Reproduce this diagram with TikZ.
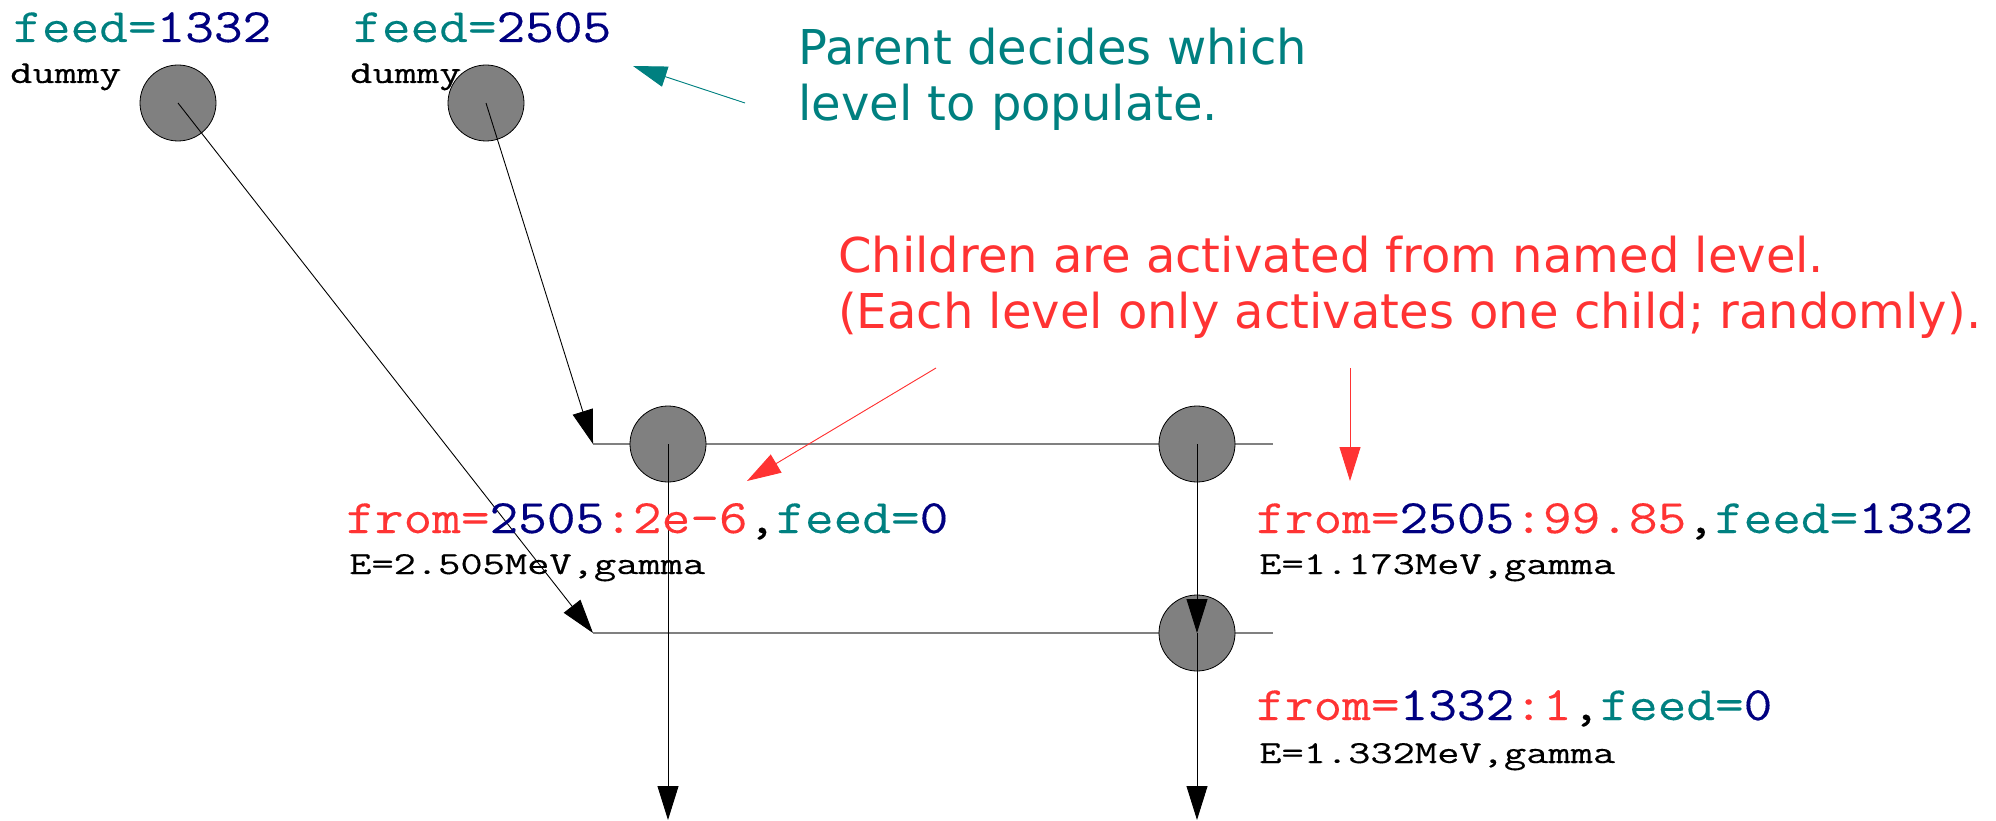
\documentclass[tikz,border=0pt]{standalone}
\usepackage{fontspec}
\setmainfont{DejaVu Sans}
\newfontfamily\monofont[FakeStretch=1.16,FakeBold=0.2]{Latin Modern Mono}
\newfontfamily\smallmono[FakeStretch=1.35,FakeBold=0.3]{Latin Modern Mono}
\usetikzlibrary{arrows.meta}
\definecolor{lblteal}{RGB}{0,128,128}
\definecolor{lblnavy}{RGB}{0,0,128}
\definecolor{lblred}{RGB}{255,51,51}
\definecolor{lvlgray}{RGB}{128,128,128}

\begin{document}
\begin{tikzpicture}[x=1pt,y=-1pt,
  levelnode/.style={circle, draw=black, line width=0.8pt, fill=lvlgray,
    minimum size=76pt, inner sep=0pt},
  levelline/.style={draw=lvlgray, line width=1.5pt},
  decay/.style={draw=black, line width=0.9pt,
    -{Triangle[length=34pt,width=21pt]}},
  notearrow/.style={line width=0.9pt, -{Triangle[length=34pt,width=21pt]}},
  bigtxt/.style={anchor=base west, inner sep=0pt,
    font=\monofont\fontsize{48}{56}\selectfont},
  smalltxt/.style={anchor=base west, inner sep=0pt,
    font=\smallmono\fontsize{32}{38}\selectfont},
  notetxt/.style={anchor=base west, inner sep=0pt,
    font=\fontsize{48}{56}\selectfont},
]
\useasboundingbox (0,0) rectangle (1996,821);

% level line end points and free arrow ends
\coordinate (l1w) at (593,444);
\coordinate (l1e) at (1273,444);
\coordinate (l2w) at (593,633);
\coordinate (l2e) at (1273,633);
\coordinate (out3) at (668,820);
\coordinate (out5) at (1197,820);
\coordinate (pnote) at (745,103);
\coordinate (ptip) at (633,66);
\coordinate (cnoteA) at (936,368);
\coordinate (ctipA) at (747,481);
\coordinate (cnoteB) at (1350,368);
\coordinate (ctipB) at (1350,481);

% level lines (under the circles)
\draw[levelline] (l1w) -- (l1e);
\draw[levelline] (l2w) -- (l2e);

% parents and levels
\node[levelnode] (c1) at (178,103) {};
\node[levelnode] (c2) at (486,103) {};
\node[levelnode] (c3) at (668,444) {};
\node[levelnode] (c4) at (1197,444) {};
\node[levelnode] (c5) at (1197,633) {};

% feeding and decay arrows
\draw[decay] (c2.center) -- (l1w);
\draw[decay] (c1.center) -- (l2w);
\draw[decay] (c3.center) -- (out3);
\draw[decay] (c4.center) -- (c5.center);
\draw[decay] (c5.center) -- (out5);

% annotation arrows
\draw[notearrow, draw=lblteal, fill=lblteal] (pnote) -- (ptip);
\draw[notearrow, draw=lblred, fill=lblred] (cnoteA) -- (ctipA);
\draw[notearrow, draw=lblred, fill=lblred] (cnoteB) -- (ctipB);

% parent labels
\node[bigtxt] (f1) at (13,42) {\textcolor{lblteal}{feed=}\textcolor{lblnavy}{1332}};
\node[smalltxt] (d1) at (10,83) {dummy};
\node[bigtxt] (f2) at (353,42) {\textcolor{lblteal}{feed=}\textcolor{lblnavy}{2505}};
\node[smalltxt] (d2) at (350,83) {dummy};

% level labels
\node[bigtxt] (t3) at (346,533) {\textcolor{lblred}{from=}\textcolor{lblnavy}{2505}\textcolor{lblred}{:2e-6},\textcolor{lblteal}{feed=}\textcolor{lblnavy}{0}};
\node[smalltxt] (e3) at (349,574) {E=2.505MeV,gamma};
\node[bigtxt] (t4) at (1256,533) {\textcolor{lblred}{from=}\textcolor{lblnavy}{2505}\textcolor{lblred}{:99.85},\textcolor{lblteal}{feed=}\textcolor{lblnavy}{1332}};
\node[smalltxt] (e4) at (1259,574) {E=1.173MeV,gamma};
\node[bigtxt] (t5) at (1256,720) {\textcolor{lblred}{from=}\textcolor{lblnavy}{1332}\textcolor{lblred}{:1},\textcolor{lblteal}{feed=}\textcolor{lblnavy}{0}};
\node[smalltxt] (e5) at (1259,763) {E=1.332MeV,gamma};

% notes
\node[notetxt, text=lblteal] (pn1) at (798,65) {Parent decides which};
\node[notetxt, text=lblteal] (pn2) at (798,121) {level to populate.};
\node[notetxt, text=lblred] (cn1) at (838,272) {Children are activated from named level.};
\node[notetxt, text=lblred] (cn2) at (838,328) {(Each level only activates one child; randomly).};
\end{tikzpicture}
\end{document}
